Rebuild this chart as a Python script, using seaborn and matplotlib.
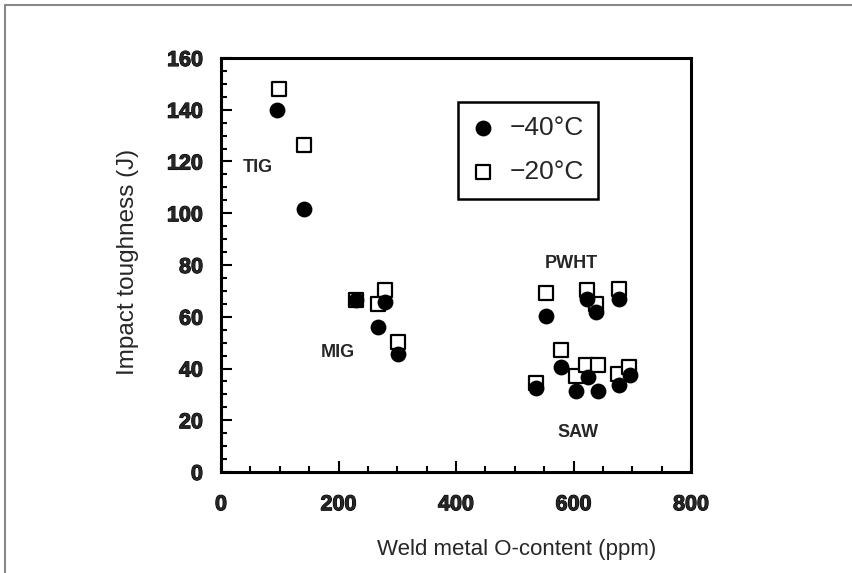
import numpy as np
import pandas as pd
import matplotlib
matplotlib.use('Agg')
import matplotlib.pyplot as plt
import matplotlib.patheffects as pe
from matplotlib.lines import Line2D
from matplotlib.ticker import MultipleLocator
import seaborn as sns

# -40C impact toughness (filled circles)
o40 = [95, 142, 229, 279, 268, 302, 554, 623, 639, 678, 579, 605, 625, 641, 678, 696, 536]
cvn40 = [140, 101.5, 66.5, 65.7, 56, 45.7, 60.1, 67, 61.8, 67, 40.6, 31.2, 36.7, 31.2, 33.5, 37.4, 32.4]
# -20C impact toughness (open squares)
o20 = [99, 142, 229, 279, 267, 302, 553, 623, 639, 678, 579, 604, 621, 642, 676, 695, 536]
cvn20 = [148, 126.4, 66.5, 70.2, 65, 50.2, 69.1, 70.2, 65, 70.8, 47, 37.1, 41.2, 41.2, 38, 40.6, 34.4]

groups = ['TIG', 'MIG', 'PWHT', 'SAW']
group_x = [63, 199, 597, 608]
group_y = [117.6, 46.3, 80.5, 15.4]

sns.set_style('ticks')
plt.rcParams['font.family'] = ['Liberation Sans', 'DejaVu Sans']

df40 = pd.DataFrame({'O': o40, 'CVN': cvn40})
df20 = pd.DataFrame({'O': o20, 'CVN': cvn20})

fig = plt.figure(figsize=(8.52, 5.73), dpi=100)
ax = fig.add_axes([221/852, 1 - 472/573, 470/852, 414/573])

sns.scatterplot(data=df20, x='O', y='CVN', ax=ax, marker='s', s=100,
                facecolor='white', edgecolor='black', linewidth=1.6,
                label='\u221220\u00b0C', zorder=3)
sns.scatterplot(data=df40, x='O', y='CVN', ax=ax, marker='o', s=130,
                color='black', edgecolor='black', linewidth=0,
                label='\u221240\u00b0C', zorder=4)

bold_fx = [pe.withStroke(linewidth=0.8, foreground='black')]
for g, gx, gy in zip(groups, group_x, group_y):
    ax.text(gx, gy, g, ha='center', va='center', fontsize=13, fontweight='bold')

ax.set_xlim(0, 800)
ax.set_ylim(0, 160)
ax.xaxis.set_major_locator(MultipleLocator(200))
ax.xaxis.set_minor_locator(MultipleLocator(50))
ax.yaxis.set_major_locator(MultipleLocator(20))
ax.yaxis.set_minor_locator(MultipleLocator(5))
ax.tick_params(which='both', direction='in', width=1.5, color='black')
ax.tick_params(which='major', length=8)
ax.tick_params(which='minor', length=4.5)
ax.tick_params(axis='x', which='major', pad=16)
ax.tick_params(axis='y', which='major', pad=13)
for lab in ax.get_xticklabels() + ax.get_yticklabels():
    lab.set_fontweight('bold')
    lab.set_fontsize(15.5)
    lab.set_path_effects(bold_fx)
for sp in ax.spines.values():
    sp.set_visible(True)
    sp.set_linewidth(2.2)
    sp.set_color('black')

ax.set_xlabel('Weld metal O-content (ppm)', fontsize=16)
ax.set_ylabel('Impact toughness (J)', fontsize=17.5)
ax.xaxis.label.set_va('center')
ax.yaxis.label.set_va('center')
ax.xaxis.set_label_coords(0.628, -0.188)
ax.yaxis.set_label_coords(-0.198, 0.507)

handles, labels = ax.get_legend_handles_labels()
leg = ax.legend(handles[::-1], labels[::-1], loc='upper left',
                bbox_to_anchor=(0.504, 0.894), fontsize=19, frameon=True,
                fancybox=False, framealpha=1, edgecolor='black',
                labelspacing=0.75, handlelength=0.8, handletextpad=0.6,
                borderpad=0.55, borderaxespad=0)
leg.get_frame().set_linewidth(1.8)

# outer frame of the original scan (top and left edges only)
fig.add_artist(Line2D([5/852, 1], [1 - 5/573, 1 - 5/573], color='#888888', lw=1.5))
fig.add_artist(Line2D([5/852, 5/852], [0, 1 - 5/573], color='#888888', lw=1.5))

fig.savefig('out.png', dpi=100)
